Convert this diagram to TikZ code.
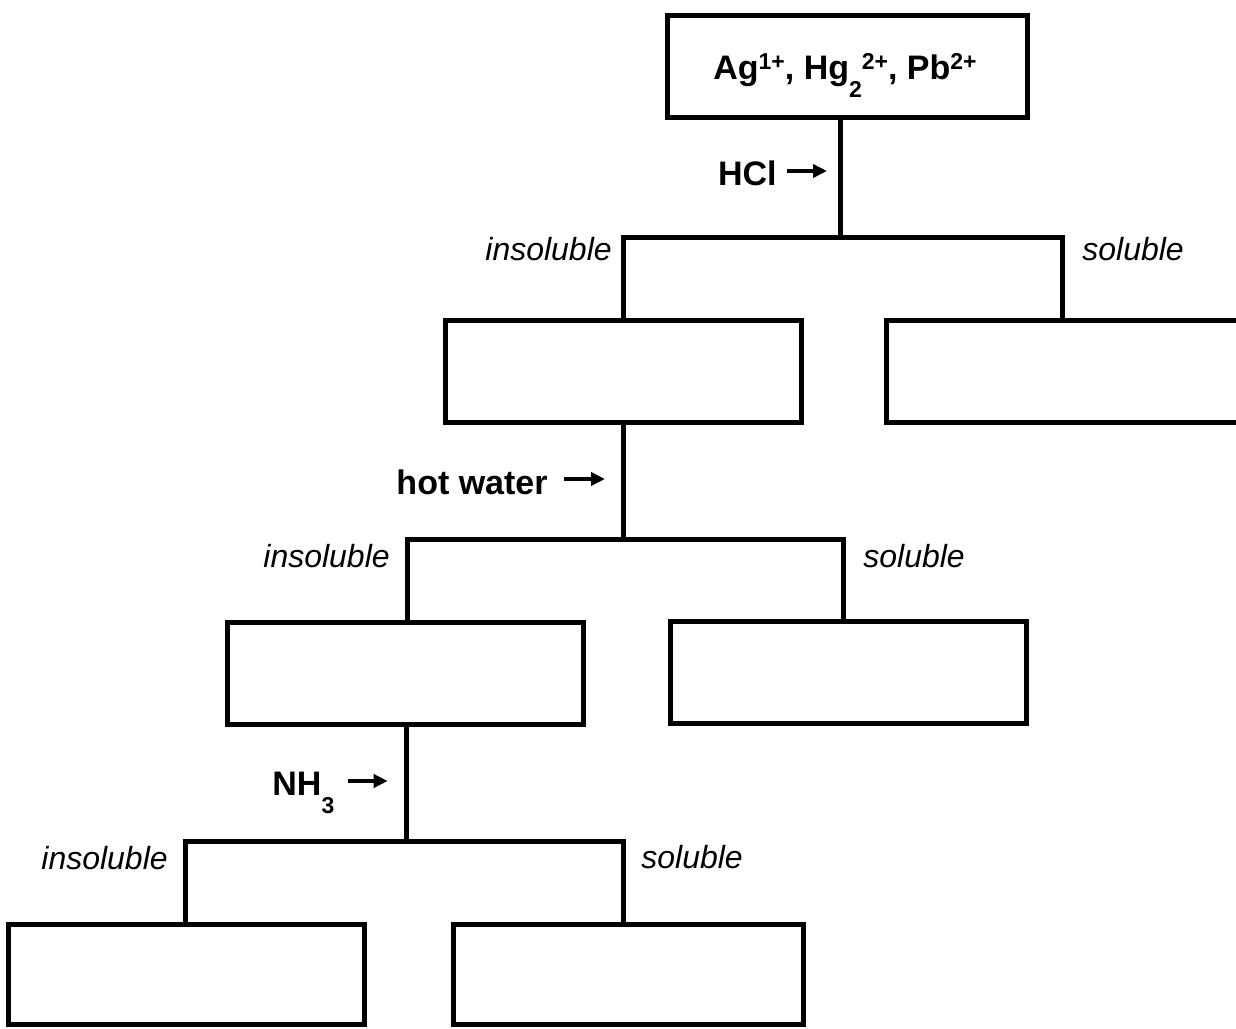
\documentclass[tikz,border=0pt]{standalone}
\usepackage{fontspec}
\setmainfont{Liberation Sans}
\usetikzlibrary{arrows.meta}
\newcommand{\supx}[1]{\raisebox{5pt}{\fontsize{11.5}{11.5}\selectfont #1}}
\newcommand{\subx}[1]{\raisebox{-9pt}{\fontsize{11.5}{11.5}\selectfont #1}}
\tikzset{
  box/.style={draw, line width=2.5pt, minimum width=178pt, minimum height=51pt, inner sep=0pt},
  conn/.style={line width=2.5pt, line join=miter},
  lbl/.style={font=\fontsize{17}{20}\selectfont\bfseries, inner sep=0pt},
  branch/.style={font=\fontsize{16}{19}\selectfont\itshape, inner sep=0pt},
  rarrow/.style={line width=2pt, -{Triangle[length=7pt,width=6.5pt]}}
}
\begin{document}
\begin{tikzpicture}[x=0.5pt,y=-0.5pt]
\useasboundingbox (0,0) rectangle (1236,1028);
\clip (0,0) rectangle (1236,1028);
% boxes
\node[box, minimum width=180pt] (top) at (847,66) {};
\node[box] (l2l) at (623,371) {};
\node[box] (l2r) at (1064,371) {};
\node[box] (l3l) at (405.5,673.5) {};
\node[box] (l3r) at (848,672.5) {};
\node[box, minimum height=50pt] (l4l) at (186,974.5) {};
\node[box, minimum width=175pt, minimum height=50pt] (l4r) at (628,974) {};
% junctions
\coordinate (j1) at (840,237);
\coordinate (j2) at (623,539);
\coordinate (j3) at (406,841);
% connectors
\draw[conn] (top.south -| j1) -- (j1);
\draw[conn] (l2l.north) |- ([xshift=-1pt]l2r.north |- j1) -- ([xshift=-1pt]l2r.north);
\draw[conn] (l2l.south -| j2) -- (j2);
\draw[conn] ([xshift=0.75pt]l3l.north) |- ([xshift=-2.5pt]l3r.north |- j2) -- ([xshift=-2.5pt]l3r.north);
\draw[conn] (l3l.south -| j3) -- (j3);
\draw[conn] ([xshift=-0.5pt]l4l.north) |- ([xshift=-2.5pt]l4r.north |- j3) -- ([xshift=-2.5pt]l4r.north);
% reagent labels
\node[lbl, anchor=base] (ions) at ([xshift=-1pt,yshift=-6.5pt]top.center) {Ag\supx{1+}, Hg\subx{2}\supx{2+}, Pb\supx{2+}};
\node[lbl, anchor=base east] (hcl) at (777,185) {HCl};
\draw[rarrow] ([xshift=5pt,yshift=7pt]hcl.base east) -- ++(40,0);
\node[lbl, anchor=base east] (hot) at (548,494) {hot water};
\draw[rarrow] ([xshift=8pt,yshift=7.5pt]hot.base east) -- ++(41,0);
\node[lbl, anchor=base west] (nh3) at (272,795) {NH\subx{3}};
\draw[rarrow] ([xshift=6.5pt,yshift=7pt]nh3.base east) -- ++(40,0);
% branch labels
\node[branch, anchor=base west] (ins1) at (485,260) {insoluble};
\node[branch, anchor=base west] (sol1) at (1082,260) {soluble};
\node[branch, anchor=base west] (ins2) at (263,567) {insoluble};
\node[branch, anchor=base west] (sol2) at (863,567) {soluble};
\node[branch, anchor=base west] (ins3) at (41,869) {insoluble};
\node[branch, anchor=base west] (sol3) at (641,868) {soluble};
\end{tikzpicture}
\end{document}
